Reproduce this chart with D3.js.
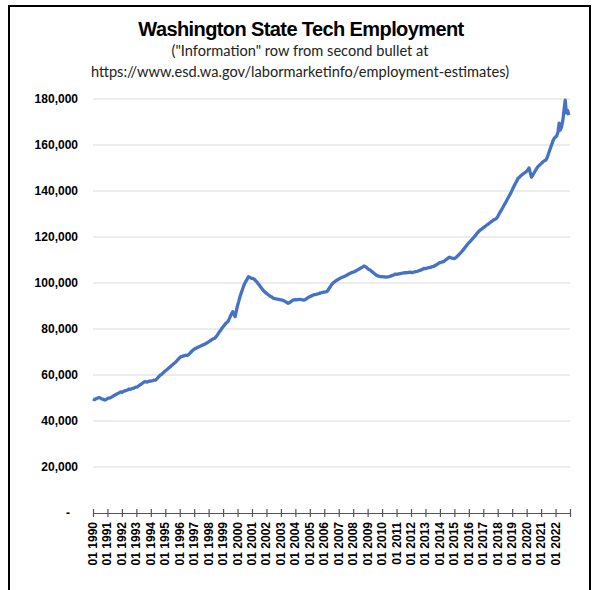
<!DOCTYPE html>
<html>
<head>
<meta charset="utf-8">
<script src="https://cdn.jsdelivr.net/npm/d3@7"></script>
<style>
  body { margin: 0; background: #fff; }
  svg { display: block; }
</style>
</head>
<body>
<div id="chart"></div>
<script>
// monthly employment, Jan 1990 .. Dec 2022 (one row per year)
const startYear = 1990;
const employment = [
  49600, 49300, 49500, 49800, 50000, 50200, 50000, 49700, 49500, 49300, 49100, 49400,
  49800, 49900, 50000, 50300, 50600, 51000, 51200, 51500, 51800, 52100, 52300, 52700,
  52500, 52800, 53000, 53200, 53400, 53600, 53900, 53800, 54000, 54200, 54300, 54600,
  54700, 54900, 55300, 55700, 56000, 56400, 56800, 57100, 57000, 56900, 57200, 57400,
  57300, 57500, 57600, 57800, 57800, 58300, 58900, 59500, 60000, 60300, 60800, 61300,
  61800, 62200, 62600, 63100, 63500, 64000, 64400, 64900, 65300, 65800, 66400, 67000,
  67500, 68000, 68100, 68300, 68400, 68600, 68500, 68700, 69200, 69800, 70300, 70800,
  71200, 71500, 71800, 72000, 72300, 72500, 72800, 73000, 73200, 73500, 73800, 74100,
  74400, 74800, 75100, 75500, 75800, 76000, 76500, 77200, 78000, 78800, 79500, 80300,
  81000, 81600, 82300, 82800, 83200, 84300, 85500, 86600, 87500, 86300, 85400, 87900,
  90200, 92000, 94000, 95600, 97100, 98600, 99900, 100800, 101700, 102700, 102500, 102200,
  102000, 101900, 101600, 101000, 100500, 99800, 99100, 98400, 97700, 97000, 96400, 95900,
  95500, 95100, 94700, 94300, 94000, 93700, 93300, 93200, 93100, 93000, 92900, 92800,
  92700, 92600, 92400, 92100, 91800, 91500, 91200, 91400, 91800, 92200, 92600, 92700,
  92800, 92700, 92800, 92900, 92900, 92800, 92700, 92600, 92700, 93100, 93400, 93800,
  94100, 94300, 94500, 94800, 94900, 95000, 95200, 95300, 95500, 95700, 95800, 96000,
  96000, 96100, 96200, 96800, 97600, 98400, 99200, 99900, 100300, 100700, 101100, 101400,
  101700, 102000, 102300, 102500, 102700, 102900, 103200, 103500, 103800, 104100, 104300, 104600,
  104700, 104900, 105200, 105500, 105800, 106100, 106400, 106700, 107000, 107400, 107200, 106800,
  106300, 105800, 105700, 105200, 104800, 104300, 103900, 103500, 103200, 103000, 102900, 102800,
  102800, 102700, 102700, 102600, 102700, 102700, 102800, 103000, 103200, 103400, 103600, 103900,
  103800, 103900, 104000, 104100, 104200, 104300, 104400, 104500, 104400, 104500, 104600, 104700,
  104600, 104500, 104700, 104800, 104900, 105000, 105200, 105400, 105600, 105800, 106100, 106400,
  106300, 106400, 106600, 106700, 106800, 107000, 107100, 107300, 107600, 107900, 108200, 108600,
  108900, 109000, 109200, 109300, 109700, 110100, 110500, 110900, 111200, 111000, 110800, 110700,
  110600, 110900, 111400, 111900, 112500, 113000, 113600, 114200, 114800, 115500, 116200, 116900,
  117500, 118000, 118600, 119200, 119800, 120400, 121000, 121700, 122300, 122800, 123200, 123600,
  124000, 124400, 124800, 125200, 125600, 126000, 126400, 126800, 127200, 127500, 127800, 128100,
  128900, 129900, 130800, 131700, 132600, 133600, 134500, 135400, 136400, 137400, 138300, 139300,
  140400, 141500, 142600, 143600, 144600, 145600, 146000, 146500, 147000, 147400, 147800, 148100,
  148600, 149200, 150000, 148000, 146000, 146800, 147700, 148600, 149500, 150400, 150900, 151400,
  151900, 152400, 152900, 153200, 153500, 154500, 156000, 157500, 159000, 160500, 162000, 163000,
  163500, 164000, 165500, 169500, 166500, 168000, 170500, 175000, 179500, 174000, 175000, 173000
];
const tickYears = d3.range(1990, 2023);
const yTicks = [0, 20000, 40000, 60000, 80000, 100000, 120000, 140000, 160000, 180000];

const width = 595, height = 590;
const plot = { left: 93, right: 570, top: 99, bottom: 513 };

const svg = d3.select("#chart").append("svg").attr("width", width).attr("height", height);

// frame around the picture
svg.append("rect").attr("x", 9).attr("y", 6).attr("width", 581).attr("height", 600)
  .attr("fill", "none").attr("stroke", "#000").attr("stroke-width", 2);

// titles
svg.append("text").text("Washington State Tech Employment")
  .attr("x", 301).attr("y", 36).attr("text-anchor", "middle")
  .attr("font-family", "Liberation Sans, Arial, sans-serif").attr("font-weight", "bold")
  .attr("font-size", 20).attr("letter-spacing", -0.6).attr("fill", "#000");
svg.append("text").text('("Information" row from second bullet at')
  .attr("x", 300).attr("y", 56).attr("text-anchor", "middle")
  .attr("font-family", "Lato, sans-serif").attr("font-size", 14.6).attr("fill", "#222");
svg.append("text").text("https://www.esd.wa.gov/labormarketinfo/employment-estimates)")
  .attr("x", 300).attr("y", 77).attr("text-anchor", "middle")
  .attr("font-family", "Lato, sans-serif").attr("font-size", 14.6).attr("fill", "#222");

const x = d3.scaleLinear().domain([0, tickYears.length * 12]).range([plot.left, plot.right]);
const y = d3.scaleLinear().domain([0, 180000]).range([plot.bottom, plot.top]);

// gridlines
svg.append("g").selectAll("line").data(yTicks.filter(d => d > 0)).join("line")
  .attr("x1", plot.left).attr("x2", plot.right)
  .attr("y1", d => y(d)).attr("y2", d => y(d))
  .attr("stroke", "#d9d9d9").attr("stroke-width", 1);

// y labels
svg.append("g").selectAll("text").data(yTicks).join("text")
  .attr("x", d => d === 0 ? 70 : 78).attr("y", d => y(d) + 4)
  .attr("text-anchor", "end")
  .attr("font-family", "Liberation Sans, Arial, sans-serif").attr("font-weight", "bold")
  .attr("font-size", 12).attr("fill", "#000")
  .text(d => d === 0 ? "-" : d3.format(",")(d));

// x axis
const xAxis = d3.axisBottom(x)
  .tickValues(d3.range(0, tickYears.length * 12 + 1, 12))
  .tickSize(0).tickFormat("");
const gx = svg.append("g").attr("transform", `translate(0,${plot.bottom})`).call(xAxis);
gx.select(".domain").attr("stroke", "#555").attr("stroke-width", 1.2);
gx.selectAll(".tick line").attr("y1", -4).attr("y2", 4).attr("stroke", "#555").attr("stroke-width", 1.2);

svg.append("g").selectAll("text").data(tickYears).join("text")
  .attr("transform", d => `translate(${x((d - startYear) * 12) + 4},${plot.bottom + 9}) rotate(-90)`)
  .attr("text-anchor", "end")
  .attr("font-family", "Liberation Sans, Arial, sans-serif").attr("font-weight", "bold")
  .attr("font-size", 12).attr("fill", "#000")
  .text(d => "01 " + d);

// the line
const line = d3.line().x((d, i) => x(i)).y(d => y(d));
svg.append("path").datum(employment)
  .attr("fill", "none").attr("stroke", "#4472c4").attr("stroke-width", 3.3)
  .attr("stroke-linejoin", "round").attr("d", line);
</script>
</body>
</html>
